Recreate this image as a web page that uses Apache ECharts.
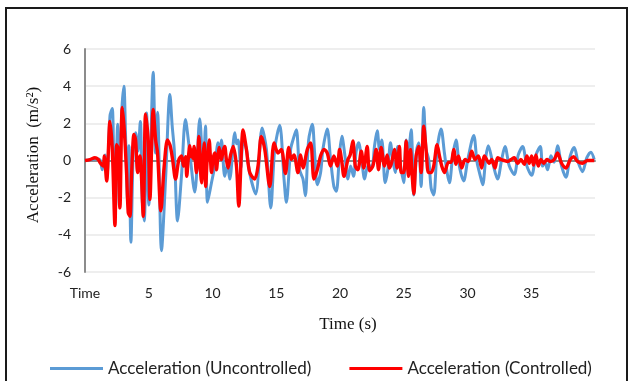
<!DOCTYPE html>
<html>
<head>
<meta charset="utf-8">
<script src="https://cdn.jsdelivr.net/npm/echarts@6/dist/echarts.min.js"></script>
<style>
  html, body { margin: 0; padding: 0; background: #fff; }
  #chart { width: 630px; height: 381px; }
</style>
</head>
<body>
<div id="chart"></div>
<script>
// Ground acceleration record, [time (s), acceleration (m/s²)]
const uncontrolled = [
  [0,0],[0.52,0.05],[0.91,0.1],[1.17,0.05],[1.36,-0.5],[1.57,0.3],[1.72,-0.85],[1.96,2.4],[2.14,2.8],[2.30,-1.0],
  [2.43,-0.3],[2.56,1.95],[2.69,-2.45],[2.87,2.4],[3.05,4.0],[3.19,1.1],[3.34,-2.1],[3.45,0.8],[3.60,-4.4],[3.79,0.6],
  [3.97,1.5],[4.15,0.5],[4.34,2.1],[4.49,-2.1],[4.65,-3.25],[4.83,2.55],[5.01,-2.4],[5.35,4.75],[5.53,0.4],[5.69,2.6],
  [6.0,-4.85],[6.32,-1.0],[6.66,3.55],[6.84,1.85],[7.0,0.6],[7.26,-3.25],[7.57,-0.8],[7.88,2.2],
  [8.14,0.9],[8.61,-1.7],[9.0,2.25],[9.27,-0.6],[9.45,1.85],[9.61,-2.25],[9.92,-1.2],[10.18,-0.3],[10.44,0.95],[10.57,0.4],
  [10.70,1.1],[10.96,-0.85],[11.17,-0.2],[11.35,-1.0],[11.75,1.5],[11.88,0.9],[12.01,1.1],[12.22,-0.4],[12.4,1.1],[12.66,0.6],
  [12.92,-0.7],[13.39,-1.8],[13.89,1.75],[14.23,0.6],[14.57,-2.55],[14.88,0.6],[15.27,1.9],[15.61,-1.0],[15.79,-2.25],
  [16.13,0.6],[16.31,1.1],[16.57,1.65],[16.83,-0.5],[17.10,-1.0],[17.28,-1.9],[17.54,1.1],[17.83,1.95],[18.01,0.4],[18.22,-1.3],
  [18.48,-0.65],[18.66,0.6],[19.0,1.7],[19.26,0.05],[19.52,-1.4],[19.71,-1.65],[19.97,0.4],[20.15,1.3],[20.36,0.4],[20.62,-1.0],
  [20.83,-0.3],[21.06,-0.85],[21.27,0.5],[21.46,0.95],[21.72,-0.1],[21.93,-1.0],[22.19,-0.3],[22.5,-0.3],[22.71,0.8],[22.92,1.6],
  [23.10,0.6],[23.28,1.1],[23.54,-1.2],
  [23.75,-0.5],[23.96,0.95],[24.14,0.05],[24.33,-0.65],[24.53,0.75],[24.80,-0.5],[25.0,-1.2],[25.19,1.1],[25.37,0.6],[25.58,1.65],
  [25.79,-1.85],[26.02,0.6],[26.18,0.95],[26.36,-1.4],[26.57,2.85],[26.75,0.6],[26.96,0.05],[27.15,-1.5],[27.35,-1.85],[27.62,0.6],
  [27.93,1.7],[28.19,0.4],[28.4,-0.65],[28.58,-1.2],[28.84,0.25],[29.10,1.1],[29.36,-0.3],[29.70,-1.1],[30.02,0.05],[30.49,1.35],
  [30.75,-0.1],[31.01,-0.85],[31.19,-1.3],[31.45,0.25],
  [31.63,0.8],[31.97,-0.1],[32.36,-1.0],[32.68,0.05],[32.94,0.75],[33.28,-0.3],[33.67,-0.75],[33.98,0.3],[34.32,0.75],[34.66,-0.3],
  [35.03,-0.8],[35.37,0.3],[35.71,0.75],[35.89,-0.3],[36.07,-0.1],[36.28,-0.5],[36.54,0.25],[36.8,-0.1],[37.06,0.8],[37.38,-0.3],
  [37.72,-0.9],[38.06,0.25],[38.37,0.7],[38.68,-0.1],[39.02,-0.6],[39.36,0.15],[39.68,0.45],[39.94,0.05]
];

const controlled = [
  [0,0],[0.39,0.05],[0.78,0.15],[1.04,0.05],[1.17,-0.1],[1.44,-0.3],[1.51,0.25],[1.70,-1.1],[1.96,2.1],[2.14,0.6],
  [2.35,-3.5],[2.48,0.85],[2.61,0.6],[2.74,-2.55],[2.92,2.85],[3.08,1.65],[3.26,-0.65],[3.39,-2.8],[3.52,-3.0],[3.66,-0.65],
  [3.84,1.4],[3.97,1.1],[4.13,-0.65],[4.31,0.25],[4.57,-3.0],[4.75,2.5],[4.96,1.1],[5.09,-2.1],[5.35,2.75],[5.54,1.1],
  [5.69,0.4],[5.95,-2.7],[6.21,-0.3],[6.47,1.1],[6.68,0.8],[6.87,0.05],[7.10,-1.0],[7.36,0.05],[7.57,0.25],[7.73,-0.3],
  [7.89,0.2],[7.98,-0.85],[8.10,0.1],[8.22,0.8],[8.32,0.2],[8.40,0.55],[8.48,0.1],[8.56,0.75],[8.74,-0.65],[8.84,0.2],
  [8.93,1.3],[9.04,-0.3],[9.14,-1.2],[9.24,0.1],[9.34,0.95],[9.47,-1.4],[9.56,-0.2],[9.66,0.6],[9.74,1.1],[9.84,0.1],
  [9.92,-0.65],[10.05,0.1],[10.18,0.4],[10.31,-0.5],[10.42,0.2],[10.52,0.7],[10.62,0.2],[10.70,0.05],[10.82,0.5],[10.96,0.75],
  [11.08,0.1],[11.22,-0.4],[11.42,0.3],[11.62,0.75],[11.88,-0.3],[12.06,-2.45],[12.40,1.65],[12.66,0.6],[12.92,-0.65],[13.31,-1.0],
  [13.57,-0.3],[13.83,1.3],[14.1,0.6],[14.49,-1.4],[14.83,0.95],[15.14,0.4],[15.40,0.6],[15.72,-0.7],[15.98,0.7],[16.18,0.05],
  [16.39,0.3],[16.70,-0.65],[16.91,0.3],[17.10,-0.4],[17.44,0.6],[17.70,0.95],[17.96,-1.0],[18.22,-0.5],[18.48,0.25],[18.74,0.6],
  [19.0,0.4],[19.26,-0.3],[19.52,0.25],[19.79,-0.3],[19.97,0.6],[20.15,-0.1],[20.31,-0.85],[20.62,0.05],[20.80,0.3],[21.01,1.05],
  [21.2,-0.3],[21.4,-0.5],[21.67,0.5],[21.87,-0.4],[22.13,0.75],[22.32,-0.55],[22.58,-0.3],[22.84,0.6],[23.02,-0.5],[23.23,0.7],
  [23.49,-0.3],[23.70,0.3],[23.88,-0.4],[24.06,-0.1],[24.27,0.6],[24.48,-0.4],[24.66,0.75],[24.80,-0.65],[25.0,-0.65],[25.19,1.05],
  [25.37,-0.85],[25.53,0.6],[25.63,-0.5],[25.79,-1.8],[25.97,0.25],[26.18,0.75],[26.36,-0.65],[26.57,1.85],[26.75,0.6],[26.94,-0.65],
  [27.15,-0.65],[27.35,-0.3],[27.62,0.85],[27.80,0.25],[27.98,-0.3],[28.19,-0.65],[28.5,-0.1],[28.71,-0.1],[28.92,0.6],[29.1,-0.2],
  [29.29,0.25],[29.55,-0.4],[29.81,0.05],[30.07,-0.05],[30.33,0.5],[30.59,0.05],[30.85,0.25],[31.11,-0.4],[31.32,0.25],[31.71,-0.15],
  [31.89,0.05],[32.16,-0.4],[32.36,0.15],[32.63,0.05],[32.89,0.0],[33.15,-0.05],[33.41,0.05],[33.67,0.15],[33.93,-0.15],[34.19,0.05],
  [34.45,-0.2],[34.66,0.25],[34.84,-0.15],[35.03,0.25],[35.18,-0.25],[35.37,0.3],[35.55,-0.3],[35.76,0.05],[35.97,-0.15],[36.23,0.05],
  [36.49,-0.05],[36.80,0.05],[37.06,0.4],[37.38,-0.15],[37.72,-0.4],[38.06,0.05],[38.32,0.2],[38.63,-0.05],[39.02,-0.15],[39.41,0.0],
  [39.94,0.0]
];

const seriesNames = ['Acceleration (Uncontrolled)', 'Acceleration (Controlled)'];
const seriesColors = ['#5B9BD5', '#FF0000'];
const xTicks = [0, 5, 10, 15, 20, 25, 30, 35];
const yTicks = [-6, -4, -2, 0, 2, 4, 6];

const labelFont = 'Lato, "Open Sans", sans-serif';
const titleFont = '"Liberation Serif", "DejaVu Serif", serif';

const chart = echarts.init(document.getElementById('chart'), null, { renderer: 'canvas' });

chart.setOption({
  animation: false,
  backgroundColor: '#fff',
  grid: { left: 85, right: 35, top: 49, bottom: 109, containLabel: false },
  legend: {
    left: 45,
    top: 355,
    itemWidth: 53,
    itemHeight: 3,
    itemGap: 38,
    icon: 'rect',
    textStyle: { fontFamily: labelFont, fontSize: 17, color: '#222' },
    data: seriesNames
  },
  xAxis: [
    {
      type: 'value',
      min: 0,
      max: 40,
      interval: 5,
      axisLine: { show: false, onZero: false },
      axisTick: { show: false },
      splitLine: { show: false },
      axisLabel: {
        margin: 14,
        fontFamily: labelFont,
        fontSize: 14,
        color: '#222',
        formatter: v => (v === 0 ? 'Time' : (xTicks.includes(v) ? String(v) : ''))
      }
    },
    {
      // horizontal axis line drawn through zero
      type: 'value',
      min: 0,
      max: 40,
      position: 'top',
      axisLine: { show: true, onZero: true, lineStyle: { color: '#8c8c8c', width: 2 } },
      axisTick: { show: false },
      axisLabel: { show: false },
      splitLine: { show: false }
    }
  ],
  yAxis: {
    type: 'value',
    min: yTicks[0],
    max: yTicks[yTicks.length - 1],
    interval: 2,
    axisLine: { show: true, lineStyle: { color: '#8c8c8c', width: 2 } },
    axisTick: { show: false },
    splitLine: { show: true, lineStyle: { color: '#e9e9e9', width: 1.5 } },
    axisLabel: { margin: 14, fontFamily: labelFont, fontSize: 14, color: '#222' }
  },
  graphic: [
    {
      type: 'rect',
      shape: { x: 6, y: 8, width: 621, height: 390 },
      style: { fill: null, stroke: '#1a1a1a', lineWidth: 2 },
      silent: true,
      z: 100
    },
    {
      type: 'text',
      x: 34,
      y: 155,
      rotation: Math.PI / 2,
      style: {
        text: 'Acceleration  (m/s²)',
        font: '17px ' + titleFont,
        fill: '#111',
        align: 'center',
        verticalAlign: 'middle'
      }
    },
    {
      type: 'text',
      x: 348,
      y: 325,
      style: {
        text: 'Time (s)',
        font: '17px ' + titleFont,
        fill: '#111',
        align: 'center',
        verticalAlign: 'middle'
      }
    }
  ],
  series: [
    {
      name: seriesNames[0],
      type: 'line',
      xAxisIndex: 0,
      data: uncontrolled,
      showSymbol: false,
      smooth: 0.3,
      color: seriesColors[0],
      lineStyle: { width: 3, color: seriesColors[0] },
      z: 2
    },
    {
      name: seriesNames[1],
      type: 'line',
      xAxisIndex: 0,
      data: controlled,
      showSymbol: false,
      smooth: 0.3,
      color: seriesColors[1],
      lineStyle: { width: 3.4, color: seriesColors[1] },
      z: 3
    }
  ]
});
</script>
</body>
</html>
